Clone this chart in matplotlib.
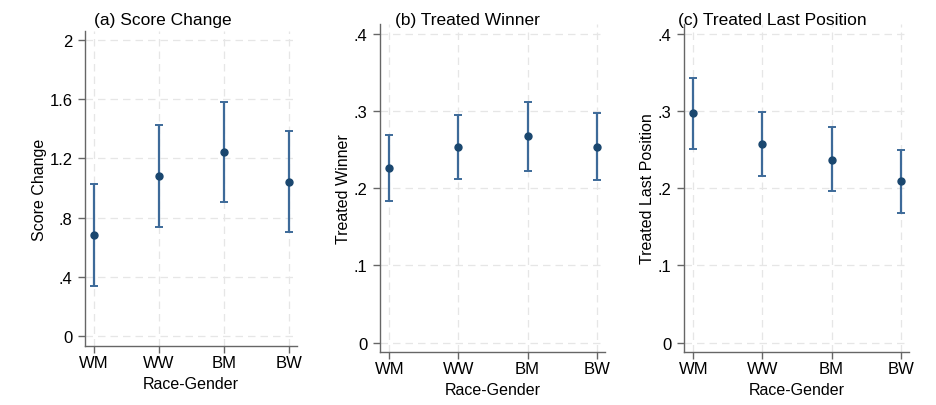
import numpy as np
import matplotlib.pyplot as plt

plt.rcParams['font.family'] = ['Liberation Sans', 'DejaVu Sans']

groups = ['WM', 'WW', 'BM', 'BW']

score_mean = [0.683, 1.083, 1.243, 1.043]
score_lo = [0.339, 0.737, 0.908, 0.701]
score_hi = [1.025, 1.425, 1.578, 1.385]

winner_mean = [0.2255, 0.253, 0.267, 0.2535]
winner_lo = [0.1827, 0.2116, 0.222, 0.2107]
winner_hi = [0.2686, 0.2946, 0.311, 0.2967]

last_mean = [0.297, 0.257, 0.237, 0.2086]
last_lo = [0.251, 0.2155, 0.1957, 0.168]
last_hi = [0.3425, 0.2984, 0.2794, 0.2492]

score_ticks = [0, 0.4, 0.8, 1.2, 1.6, 2]
score_ticklabels = ['0', '.4', '.8', '1.2', '1.6', '2']
share_ticks = [0, 0.1, 0.2, 0.3, 0.4]
share_ticklabels = ['0', '.1', '.2', '.3', '.4']

W, H = 936, 406
fig = plt.figure(figsize=(W / 100, H / 100), dpi=100)

def px_axes(left, right, top, bottom):
    return fig.add_axes([left / W, (H - bottom) / H, (right - left) / W, (bottom - top) / H])

def draw_panel(ax, mean, lo, hi, title, ylabel, ticks, ticklabels, ylim, title_x):
    x = np.arange(1, len(groups) + 1)
    mean = np.array(mean)
    err = [mean - np.array(lo), np.array(hi) - mean]
    ax.errorbar(x, mean, yerr=err, fmt='none', ecolor='#3d6a99', elinewidth=1.6,
                capsize=3, capthick=1.4, zorder=3)
    ax.plot(x, mean, 'o', color='#1a476f', markersize=5, zorder=4)
    ax.set_xlim(0.865, 4.12)
    ax.set_ylim(*ylim)
    ax.set_xticks(x)
    ax.set_xticklabels(groups, fontsize=12)
    ax.set_yticks(ticks)
    ax.set_yticklabels(ticklabels, fontsize=12)
    ax.grid(True, color='#e6e6e6', linestyle=(0, (6, 4)), linewidth=0.9)
    ax.set_axisbelow(True)
    for s in ['top', 'right']:
        ax.spines[s].set_visible(False)
    for s in ['left', 'bottom']:
        ax.spines[s].set_color('#666666')
        ax.spines[s].set_linewidth(1.0)
    ax.tick_params(axis='both', colors='#666666', length=5, width=1.0, labelcolor='black', pad=4)
    ax.tick_params(axis='x', pad=1.5)
    ax.set_xlabel('Race-Gender', fontsize=11.5, labelpad=4)
    ax.set_ylabel(ylabel, fontsize=11.5, labelpad=2)
    fig.text(title_x / W, (H - 21) / H, title, fontsize=12.5, ha='center', va='center')

ax1 = px_axes(85, 297, 32, 347)
draw_panel(ax1, score_mean, score_lo, score_hi, '(a) Score Change', 'Score Change',
           score_ticks, score_ticklabels, (-0.065, 2.06), 163)

ax2 = px_axes(380, 605, 25, 353)
draw_panel(ax2, winner_mean, winner_lo, winner_hi, '(b) Treated Winner', 'Treated Winner',
           share_ticks, share_ticklabels, (-0.0122, 0.4125), 467)

ax3 = px_axes(684, 909, 25, 353)
draw_panel(ax3, last_mean, last_lo, last_hi, '(c) Treated Last Position', 'Treated Last Position',
           share_ticks, share_ticklabels, (-0.0122, 0.4125), 772)

fig.savefig('out.png', dpi=100)
